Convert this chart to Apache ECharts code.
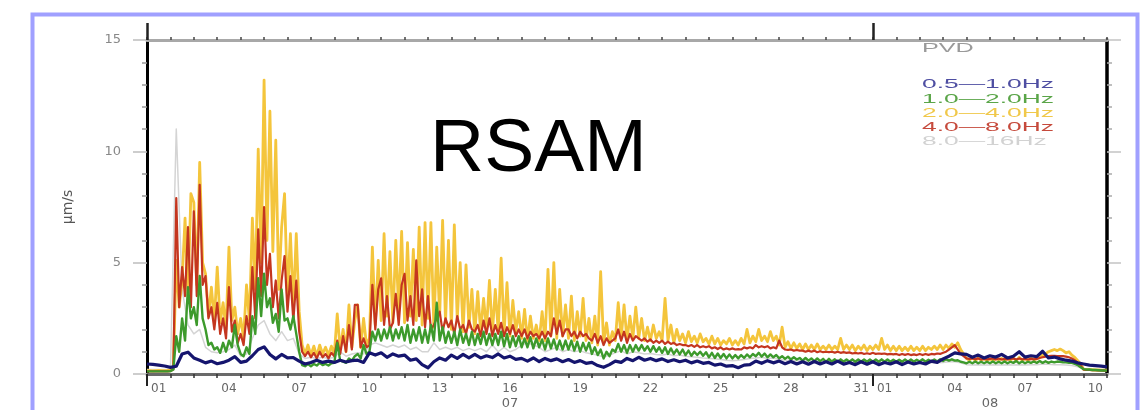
<!DOCTYPE html>
<html>
<head>
<meta charset="utf-8">
<script src="https://cdn.jsdelivr.net/npm/echarts@6/dist/echarts.min.js"></script>
<style>
html,body{margin:0;padding:0;background:#fff;}
#chart{width:1140px;height:410px;}
</style>
</head>
<body>
<div id="chart"></div>
<script>
// ---- data: samples start 07/01 00:00; fine bands every 3 h, others every 6 h ----
const fineStepDays = 0.125;
const coarseStepDays = 0.25;
const seriesNames = ['0.5—1.0Hz', '1.0—2.0Hz', '2.0—4.0Hz', '4.0—8.0Hz', '8.0—16Hz'];
const stationName = 'PVD';
const titleText = 'RSAM';
const yAxisName = 'μm/s';
const tickLabelDays = [0, 3, 6, 9, 12, 15, 18, 21, 24, 27, 30, 31, 34, 37, 40];
const tickLabels = ['01', '04', '07', '10', '13', '16', '19', '22', '25', '28', '31', '01', '04', '07', '10'];
const monthCenters = [15.5, 36];
const monthLabels = ['07', '08'];
const monthBoundaries = [0, 31];

// 0.5-1.0 Hz, every 6 h
const band05_10 = [
  0.45, 0.43, 0.40, 0.36,  0.30, 0.35, 0.90, 0.98,  0.72, 0.62, 0.50, 0.58,  0.46, 0.52, 0.62, 0.78,
  0.52, 0.58, 0.82, 1.10,  1.22, 0.88, 0.68, 0.88,  0.72, 0.74, 0.58, 0.45,  0.52, 0.62, 0.52, 0.58,
  0.52, 0.62, 0.54, 0.60,  0.62, 0.52, 0.95, 0.85,  0.95, 0.75, 0.90, 0.80,  0.85, 0.62, 0.68, 0.42,
  0.28, 0.55, 0.72, 0.62,  0.85, 0.70, 0.88, 0.72,  0.88, 0.72, 0.82, 0.74,  0.90, 0.72, 0.80, 0.66,
  0.70, 0.58, 0.72, 0.56,  0.70, 0.60, 0.68, 0.55,  0.65, 0.52, 0.60, 0.48,  0.52, 0.38, 0.30, 0.42,
  0.58, 0.52, 0.70, 0.60,  0.75, 0.62, 0.70, 0.60,  0.68, 0.56, 0.64, 0.55,  0.62, 0.50, 0.58, 0.48,
  0.52, 0.40, 0.45, 0.35,  0.38, 0.28, 0.40, 0.42,  0.58, 0.48, 0.60, 0.50,  0.58, 0.46, 0.56, 0.45,
  0.55, 0.44, 0.56, 0.45,  0.55, 0.45, 0.58, 0.44,  0.52, 0.42, 0.55, 0.44,  0.55, 0.42, 0.52, 0.45,
  0.55, 0.42, 0.54, 0.45,  0.52, 0.45, 0.58, 0.52,  0.68, 0.80, 0.95, 0.90,  0.88, 0.75, 0.85, 0.72,
  0.82, 0.76, 0.88, 0.72,  0.80, 1.00, 0.76, 0.82,  0.78, 1.02, 0.72, 0.76,  0.68, 0.62, 0.58, 0.50,
  0.45, 0.40, 0.38, 0.35,  0.32
];
// 1.0-2.0 Hz, every 3 h
const band10_20 = [
  0.12, 0.12, 0.12, 0.12, 0.12, 0.12, 0.12, 0.12,
  0.13, 0.20, 1.70, 1.00, 2.50, 1.50, 3.90, 2.50,
  3.00, 2.20, 4.40, 2.50, 2.00, 1.30, 1.40, 1.10,
  1.20, 0.95, 1.40, 1.00, 1.50, 1.20, 2.20, 1.30,
  0.90, 0.80, 1.20, 0.90, 2.60, 1.80, 4.30, 2.60,
  4.50, 3.00, 3.40, 2.30, 2.70, 1.90, 3.80, 2.40,
  2.50, 2.00, 2.60, 1.80, 1.00, 0.40, 0.35, 0.45,
  0.35, 0.45, 0.38, 0.50, 0.40, 0.45, 0.38, 0.48,
  0.50, 1.40, 0.60, 0.55, 0.50, 0.70, 0.60, 0.80,
  0.90, 0.70, 1.30, 0.90, 1.00, 1.90, 1.50, 2.00,
  1.50, 2.00, 1.60, 2.10, 1.50, 2.00, 1.60, 2.10,
  1.50, 2.20, 1.40, 2.00, 1.50, 2.10, 1.40, 2.00,
  1.40, 2.20, 1.50, 3.20, 1.50, 2.10, 1.40, 1.90,
  1.40, 1.90, 1.30, 2.00, 1.40, 1.80, 1.30, 1.90,
  1.30, 1.80, 1.35, 1.90, 1.30, 1.80, 1.30, 1.80,
  1.30, 1.90, 1.25, 1.80, 1.20, 1.70, 1.25, 1.70,
  1.20, 1.60, 1.20, 1.65, 1.15, 1.60, 1.20, 1.55,
  1.10, 1.60, 1.15, 1.55, 1.10, 1.50, 1.10, 1.50,
  1.10, 1.50, 1.05, 1.45, 1.00, 1.40, 1.05, 1.40,
  0.90, 1.20, 0.85, 1.10, 0.70, 1.00, 0.80, 1.10,
  1.00, 1.35, 1.00, 1.30, 0.95, 1.30, 1.00, 1.30,
  1.05, 1.30, 1.05, 1.25, 1.00, 1.25, 1.00, 1.20,
  0.95, 1.20, 0.90, 1.15, 0.90, 1.10, 0.88, 1.10,
  0.85, 1.05, 0.82, 1.00, 0.85, 1.00, 0.82, 0.98,
  0.75, 0.95, 0.72, 0.92, 0.72, 0.90, 0.70, 0.88,
  0.70, 0.85, 0.70, 0.85, 0.72, 0.88, 0.75, 0.90,
  0.80, 0.95, 0.78, 0.92, 0.75, 0.88, 0.75, 0.85,
  0.70, 0.80, 0.68, 0.78, 0.65, 0.75, 0.65, 0.72,
  0.60, 0.72, 0.60, 0.70, 0.58, 0.70, 0.58, 0.68,
  0.55, 0.68, 0.56, 0.66, 0.55, 0.66, 0.55, 0.65,
  0.55, 0.66, 0.55, 0.65, 0.55, 0.65, 0.55, 0.65,
  0.55, 0.65, 0.55, 0.66, 0.55, 0.65, 0.55, 0.64,
  0.55, 0.64, 0.55, 0.65, 0.55, 0.65, 0.55, 0.64,
  0.56, 0.66, 0.55, 0.64, 0.56, 0.65, 0.56, 0.66,
  0.58, 0.66, 0.60, 0.66, 0.60, 0.62, 0.55, 0.52,
  0.48, 0.55, 0.48, 0.56, 0.48, 0.55, 0.48, 0.55,
  0.48, 0.56, 0.48, 0.55, 0.48, 0.56, 0.48, 0.55,
  0.50, 0.58, 0.48, 0.56, 0.48, 0.55, 0.50, 0.56,
  0.50, 0.58, 0.50, 0.57, 0.50, 0.56, 0.52, 0.56,
  0.55, 0.52, 0.52, 0.50, 0.50, 0.45, 0.40, 0.30,
  0.22, 0.20, 0.20, 0.18, 0.18, 0.17, 0.16, 0.16,
  0.15
];
// 2.0-4.0 Hz, every 3 h
const band20_40 = [
  0.15, 0.15, 0.14, 0.15, 0.16, 0.15, 0.15, 0.16,
  0.18, 0.30, 5.10, 3.00, 4.20, 7.00, 3.50, 8.10,
  7.70, 4.00, 9.50, 5.00, 4.50, 2.60, 3.90, 2.40,
  4.80, 2.30, 3.20, 2.00, 5.70, 2.40, 3.00, 1.80,
  2.50, 1.60, 4.00, 2.40, 7.00, 3.80, 10.10, 5.00,
  13.20, 6.00, 11.80, 5.50, 10.50, 3.80, 6.60, 8.10,
  3.40, 6.30, 3.00, 6.30, 2.80, 1.30, 0.90, 1.30,
  0.85, 1.25, 0.80, 1.30, 0.90, 1.20, 0.85, 1.25,
  0.90, 2.70, 1.10, 2.00, 1.00, 3.10, 1.20, 2.40,
  3.10, 1.20, 2.50, 1.30, 1.60, 5.70, 2.20, 5.10,
  2.40, 6.30, 2.60, 5.50, 2.30, 6.00, 2.80, 6.40,
  2.30, 5.90, 2.60, 5.60, 2.40, 6.60, 2.20, 6.80,
  2.50, 6.80, 2.10, 5.70, 2.60, 6.90, 2.30, 6.00,
  2.00, 6.70, 2.40, 5.00, 1.90, 4.90, 2.10, 3.80,
  1.80, 3.70, 1.90, 3.40, 2.00, 4.20, 1.80, 3.80,
  1.90, 5.20, 1.80, 4.10, 1.70, 3.30, 1.90, 2.80,
  1.60, 2.90, 1.50, 2.60, 1.60, 2.20, 1.50, 2.80,
  1.50, 4.70, 1.70, 5.00, 1.60, 3.80, 1.70, 3.10,
  1.60, 3.50, 1.50, 2.80, 1.70, 3.40, 1.50, 2.50,
  1.40, 2.60, 1.30, 4.60, 1.40, 2.30, 1.30, 1.90,
  1.50, 3.20, 1.60, 3.10, 1.50, 2.60, 1.60, 3.00,
  1.60, 2.50, 1.50, 2.10, 1.50, 2.20, 1.60, 1.90,
  1.50, 3.40, 1.50, 2.20, 1.40, 2.00, 1.50, 1.80,
  1.40, 1.90, 1.45, 1.70, 1.40, 1.80, 1.45, 1.60,
  1.35, 1.70, 1.35, 1.60, 1.30, 1.50, 1.35, 1.60,
  1.30, 1.50, 1.30, 1.60, 1.35, 2.00, 1.40, 1.70,
  1.45, 2.00, 1.50, 1.70, 1.45, 1.90, 1.50, 1.70,
  1.30, 2.10, 1.20, 1.45, 1.15, 1.40, 1.15, 1.35,
  1.10, 1.35, 1.10, 1.30, 1.10, 1.35, 1.10, 1.25,
  1.10, 1.30, 1.10, 1.25, 1.10, 1.60, 1.10, 1.30,
  1.10, 1.30, 1.05, 1.25, 1.10, 1.30, 1.05, 1.25,
  1.10, 1.30, 1.10, 1.60, 1.10, 1.30, 1.05, 1.25,
  1.05, 1.25, 1.05, 1.20, 1.05, 1.25, 1.05, 1.20,
  1.05, 1.25, 1.05, 1.20, 1.10, 1.25, 1.10, 1.30,
  1.10, 1.30, 1.15, 1.35, 1.20, 1.40, 1.10, 0.90,
  0.70, 0.62, 0.75, 0.60, 0.72, 0.62, 0.70, 0.60,
  0.68, 0.60, 0.72, 0.62, 0.70, 0.60, 0.70, 0.62,
  0.72, 0.60, 0.75, 0.62, 0.70, 0.60, 0.72, 0.65,
  0.68, 0.75, 0.85, 0.90, 1.00, 1.05, 1.10, 1.05,
  1.12, 1.05, 0.95, 1.00, 0.85, 0.75, 0.60, 0.45,
  0.22, 0.20, 0.20, 0.19, 0.18, 0.18, 0.17, 0.17,
  0.17
];
// 4.0-8.0 Hz, every 3 h
const band40_80 = [
  0.12, 0.12, 0.12, 0.12, 0.12, 0.12, 0.12, 0.12,
  0.13, 0.20, 7.90, 3.00, 4.80, 3.50, 6.60, 3.00,
  7.30, 3.50, 8.50, 4.00, 4.40, 2.50, 3.00, 2.00,
  3.20, 1.80, 2.50, 1.60, 3.90, 1.90, 2.40, 1.40,
  1.80, 1.30, 2.60, 1.80, 4.80, 2.50, 6.50, 3.50,
  7.50, 4.00, 5.40, 3.00, 4.20, 2.50, 4.20, 5.30,
  2.80, 4.40, 2.40, 4.20, 1.90, 1.00, 0.80, 1.00,
  0.75, 0.95, 0.70, 1.00, 0.75, 0.90, 0.70, 0.95,
  0.80, 1.50, 0.90, 1.70, 1.00, 2.20, 1.10, 3.10,
  3.10, 1.20, 1.60, 1.20, 1.30, 4.00, 2.00, 3.80,
  4.30, 2.20, 3.50, 2.00, 2.30, 3.60, 2.20, 4.00,
  4.50, 2.40, 3.50, 2.20, 5.10, 2.60, 3.80, 2.10,
  3.50, 2.00, 2.20, 2.50, 2.80, 1.90, 2.50, 2.10,
  2.40, 1.80, 2.60, 2.00, 2.20, 1.80, 2.40, 2.00,
  1.90, 2.20, 1.70, 2.40, 1.80, 2.50, 1.70, 2.20,
  1.80, 2.30, 1.70, 2.10, 1.80, 2.20, 1.70, 2.00,
  1.70, 2.00, 1.60, 1.90, 1.70, 1.80, 1.60, 1.90,
  1.60, 1.90, 1.70, 2.50, 1.80, 2.40, 1.70, 2.00,
  2.00, 1.70, 1.90, 1.60, 1.90, 1.70, 1.80, 1.60,
  1.50, 1.80, 1.40, 1.70, 1.30, 1.60, 1.40, 1.50,
  1.60, 2.00, 1.50, 1.90, 1.40, 1.80, 1.50, 1.70,
  1.60, 1.50, 1.60, 1.45, 1.55, 1.40, 1.50, 1.40,
  1.50, 1.35, 1.45, 1.35, 1.40, 1.30, 1.35, 1.30,
  1.30, 1.25, 1.30, 1.22, 1.30, 1.20, 1.25, 1.20,
  1.25, 1.15, 1.20, 1.12, 1.20, 1.10, 1.15, 1.10,
  1.15, 1.10, 1.12, 1.10, 1.20, 1.15, 1.20, 1.15,
  1.30, 1.20, 1.25, 1.20, 1.25, 1.15, 1.20, 1.15,
  1.50, 1.20, 1.10, 1.08, 1.10, 1.05, 1.08, 1.05,
  1.05, 1.00, 1.05, 1.00, 1.05, 0.98, 1.02, 0.98,
  1.00, 0.98, 1.00, 0.96, 1.00, 0.95, 0.98, 0.95,
  0.97, 0.92, 0.95, 0.92, 0.95, 0.90, 0.93, 0.90,
  0.95, 0.90, 0.92, 0.90, 0.92, 0.88, 0.90, 0.88,
  0.90, 0.85, 0.90, 0.86, 0.90, 0.85, 0.88, 0.85,
  0.90, 0.85, 0.90, 0.86, 0.90, 0.88, 0.92, 0.90,
  0.95, 1.00, 1.10, 1.20, 1.30, 1.10, 0.90, 0.80,
  0.70, 0.68, 0.70, 0.66, 0.70, 0.65, 0.68, 0.66,
  0.68, 0.70, 0.65, 0.70, 0.65, 0.68, 0.66, 0.68,
  0.70, 0.65, 0.70, 0.66, 0.68, 0.65, 0.68, 0.66,
  0.68, 0.72, 0.75, 0.78, 0.80, 0.82, 0.82, 0.80,
  0.80, 0.80, 0.78, 0.75, 0.70, 0.62, 0.50, 0.38,
  0.20, 0.18, 0.18, 0.17, 0.17, 0.16, 0.16, 0.15,
  0.15
];
// 8.0-16 Hz, every 6 h
const band80_160 = [
  0.20, 0.20, 0.20, 0.20,  0.20, 11.00, 3.80, 2.20, 1.80, 2.00, 1.20, 1.00,  0.95, 1.00, 1.10, 1.30,
  0.80, 0.90, 1.60, 2.20,  2.40, 1.80, 1.50, 1.90,  1.50, 1.60, 0.90, 0.70,  0.75, 0.70, 0.75, 0.70,
  0.75, 1.00, 0.80, 0.90,  0.95, 0.90, 1.30, 1.40,  1.30, 1.20, 1.30, 1.20,  1.30, 1.10, 1.20, 1.00,
  1.00, 1.40, 1.10, 1.20,  1.10, 1.20, 1.05, 1.15,  1.05, 1.15, 1.00, 1.30,  1.00, 1.20, 1.00, 1.10,
  1.30, 1.40, 1.30, 1.20,  1.00, 1.10, 1.20, 1.00,  1.10, 1.00, 1.05, 0.95,  0.90, 0.85, 0.75, 0.85,
  0.95, 1.05, 0.90, 1.00,  0.95, 0.90, 0.92, 0.88,  0.85, 0.90, 0.82, 0.85,  0.80, 0.78, 0.75, 0.72,
  0.70, 0.68, 0.65, 0.62,  0.60, 0.62, 0.65, 0.70,  0.72, 0.75, 0.70, 0.72,  0.65, 0.62, 0.60, 0.60,
  0.58, 0.60, 0.56, 0.58,  0.55, 0.56, 0.54, 0.55,  0.52, 0.54, 0.50, 0.52,  0.50, 0.52, 0.50, 0.50,
  0.48, 0.50, 0.48, 0.50,  0.48, 0.50, 0.50, 0.50,  0.52, 0.55, 0.55, 0.50,  0.42, 0.40, 0.42, 0.40,
  0.40, 0.42, 0.40, 0.42,  0.40, 0.42, 0.40, 0.42,  0.42, 0.45, 0.44, 0.42,  0.42, 0.40, 0.38, 0.32,
  0.25, 0.22, 0.20, 0.20,  0.20
];

const bandValues = [band05_10, band10_20, band20_40, band40_80, band80_160];
const bandSteps = [coarseStepDays, fineStepDays, fineStepDays, fineStepDays, coarseStepDays];
const lineColors = ['#15156e', '#3d9a2c', '#f4c53c', '#c4361f', '#d4d4d4'];
const labelColors = ['#4e4ea2', '#5aa548', '#f0c84a', '#c64a3c', '#d2d2d2'];
const lineWidths = [3.2, 2.4, 2.8, 2.2, 1.5];
const drawOrder = [4, 2, 3, 1, 0];

function toPairs(arr, step) { return arr.map((v, i) => [i * step, v]); }

const chart = echarts.init(document.getElementById('chart'), null, { renderer: 'canvas' });

const series = drawOrder.map(k => ({
  name: seriesNames[k],
  type: 'line',
  xAxisIndex: 0,
  yAxisIndex: 0,
  data: toPairs(bandValues[k], bandSteps[k]),
  showSymbol: false,
  symbol: 'none',
  lineStyle: { color: lineColors[k], width: lineWidths[k], join: 'round' },
  itemStyle: { color: lineColors[k] },
  silent: true,
  animation: false
}));

const legendGraphics = [{
  type: 'text', x: 922, y: 49, scaleX: 2.1, silent: true,
  style: { text: stationName, font: '12px "Liberation Sans"', fill: '#9a9a9a', textVerticalAlign: 'middle' }
}];
seriesNames.forEach((n, k) => {
  legendGraphics.push({
    type: 'text', x: 922, y: 85 + k * 14.2, scaleX: 2.2, silent: true,
    style: { text: n, font: '12px "Liberation Sans"', fill: labelColors[k], textVerticalAlign: 'middle' }
  });
});

const option = {
  backgroundColor: '#ffffff',
  animation: false,
  title: {
    text: titleText, left: 425, top: 108,
    textStyle: { fontSize: 75, fontWeight: 'normal', fontFamily: '"Liberation Sans", Arial', color: '#000' }
  },
  grid: { left: 147, right: 33, top: 40, bottom: 35, containLabel: false },
  xAxis: [
    {
      type: 'value', position: 'bottom', min: 0, max: 41, interval: 1,
      axisLine: { show: true, onZero: false, lineStyle: { color: '#6a6a6a', width: 3 } },
      axisTick: { show: true, length: 4, lineStyle: { color: '#333', width: 1.5 } },
      axisLabel: {
        show: true, customValues: tickLabelDays.map(d => d + 0.5), margin: 9,
        color: '#666', fontSize: 12, fontFamily: '"DejaVu Sans"',
        formatter: v => { const k = tickLabelDays.indexOf(Math.round(v - 0.5)); return k >= 0 ? tickLabels[k] : ''; }
      },
      splitLine: { show: false }
    },
    {
      type: 'value', position: 'top', min: 0, max: 41, interval: 1,
      axisLine: { show: true, onZero: false, lineStyle: { color: '#a8a8a8', width: 3 } },
      axisTick: { show: true, length: 3, lineStyle: { color: '#444', width: 1.5 } },
      axisLabel: { show: false },
      splitLine: { show: false }
    },
    {
      type: 'value', position: 'bottom', min: 0, max: 41,
      axisLine: { show: false, onZero: false },
      axisTick: { show: true, customValues: monthBoundaries, length: 12, lineStyle: { color: '#222', width: 2 } },
      axisLabel: {
        show: true, customValues: monthCenters, margin: 23, color: '#666', fontSize: 13, fontFamily: '"DejaVu Sans"',
        formatter: v => { const k = monthCenters.indexOf(v); return k >= 0 ? monthLabels[k] : ''; }
      },
      splitLine: { show: false }
    },
    {
      type: 'value', position: 'top', min: 0, max: 41,
      axisLine: { show: false, onZero: false },
      axisTick: { show: true, customValues: monthBoundaries, length: 17, lineStyle: { color: '#222', width: 2.5 } },
      axisLabel: { show: false },
      splitLine: { show: false }
    }
  ],
  yAxis: [
    {
      type: 'value', position: 'left', min: 0, max: 15, interval: 5,
      name: yAxisName, nameLocation: 'middle', nameRotate: 90, nameGap: 72,
      nameTextStyle: { color: '#555', fontSize: 14, fontFamily: '"DejaVu Sans"' },
      axisLine: { show: true, onZero: false, lineStyle: { color: '#000', width: 3 } },
      axisTick: { show: true, length: 14, lineStyle: { color: '#bdbdbd', width: 1.5 } },
      minorTick: { show: true, splitNumber: 5, length: 5, lineStyle: { color: '#999', width: 1.5 } },
      axisLabel: { show: true, margin: 26, color: '#888', fontSize: 13, fontFamily: '"DejaVu Sans"' },
      splitLine: { show: false }
    },
    {
      type: 'value', position: 'right', min: 0, max: 15, interval: 5,
      axisLine: { show: true, onZero: false, lineStyle: { color: '#000', width: 3.5 } },
      axisTick: { show: true, length: 14, lineStyle: { color: '#c4c4c4', width: 1.5 } },
      minorTick: { show: true, splitNumber: 5, length: 5, lineStyle: { color: '#aaa', width: 1.5 } },
      axisLabel: { show: false },
      splitLine: { show: false }
    }
  ],
  graphic: [
    {
      type: 'rect', silent: true, z: 100,
      shape: { x: 32.5, y: 14.5, width: 1105, height: 430 },
      style: { fill: null, stroke: '#a0a0ff', lineWidth: 4 }
    }
  ].concat(legendGraphics),
  series: series
};

chart.setOption(option);
</script>
</body>
</html>
